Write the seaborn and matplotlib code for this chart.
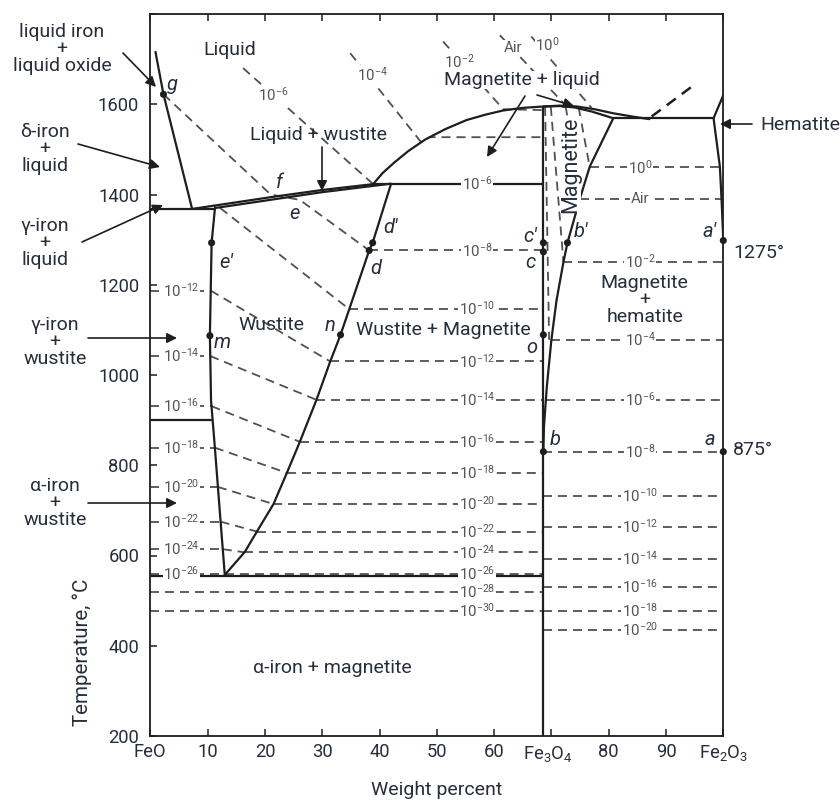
import numpy as np
import pandas as pd
import matplotlib
matplotlib.use("Agg")
import matplotlib.pyplot as plt
import seaborn as sns

sns.set_theme(style="white")
plt.rcParams["font.family"] = ["Roboto", "DejaVu Sans"]
plt.rcParams["mathtext.fontset"] = "custom"
plt.rcParams["mathtext.rm"] = "Roboto"
plt.rcParams["mathtext.it"] = "Roboto:italic"
plt.rcParams["mathtext.bf"] = "Roboto:bold"

TXT = "#262d3b"
ISO = "#555555"
LINE = "#1e1e1e"
DASH = "#505050"

# ---------------- data (weight percent, temperature C) ----------------
liq_left_p = [0.9, 2.3, 7.3]
liq_left_T = [1716, 1622, 1368]
fe_liq_p = [0, 11.3]
fe_liq_T = [1368, 1368]
wus_liquidus_p = [7.3, 21.5, 30.0, 38.9]
wus_liquidus_T = [1368, 1395, 1410, 1423]
wus_solidus_p = [11.3, 29.9, 42.0]
wus_solidus_T = [1370, 1405, 1424]
peritectic_p = [38.9, 68.6]
peritectic_T = [1424, 1424]
mag_liquidus_p = [38.9, 40.5, 42.5, 45.0, 48.0, 51.5, 55.2, 58.5, 61.5, 65.0, 68.6,
                  71.5, 74.5, 77.5, 80.8, 84.0, 87.1]
mag_liquidus_T = [1423, 1447, 1470, 1496, 1522, 1545, 1565, 1577, 1586, 1592, 1595,
                  1597, 1595, 1589, 1580, 1573, 1567]
mag_solidus_p = [68.6, 71.5, 74.0, 77.0, 80.8]
mag_solidus_T = [1595, 1596, 1593, 1584, 1569]
fe3o4_p = [68.6, 68.6]
fe3o4_T = [200, 1595]
wl_p = [11.3, 10.7, 10.4, 10.6, 11.3, 12.2, 13.0]
wl_T = [1372, 1293, 1087, 944, 834, 686, 557]
wr_p = [42.0, 38.8, 38.2, 33.2, 31.4, 29.0, 26.1, 23.8, 21.5, 18.6, 16.5, 13.0]
wr_T = [1423, 1293, 1276, 1089, 1030, 945, 852, 782, 714, 653, 608, 557]
eutectoid_p = [0, 68.6]
eutectoid_T = [555, 555]
alpha_gamma_p = [0, 10.6]
alpha_gamma_T = [900, 900]
bc_p = [80.8, 76.7, 75.0, 72.8, 72.1, 70.9, 70.0, 69.2, 68.7, 68.6]
bc_T = [1569, 1462, 1392, 1293, 1250, 1166, 1078, 974, 885, 830]
hem_eut_p = [80.8, 98.3]
hem_eut_T = [1569, 1569]
hem_p = [100, 98.3, 99.4, 99.7, 100]
hem_T = [1620, 1569, 1462, 1388, 1298]
meta_p = [87.5, 94.5]
meta_T = [1573, 1639]

# oxygen isobars (atm)
left_exp = [-12, -14, -16, -18, -20, -22, -24]
left_T = [1187, 1042, 931, 839, 752, 675, 614]
wus_right_T = [1030, 945, 852, 783, 714, 653, 607]
full_exp = [-26, -28, -30]
full_T = [560, 520, 478]
wm_exp = [-6, -8, -10, -12, -14, -16, -18, -20, -22, -24, -26, -28, -30]
wm_T = [1424, 1276, 1146, 1030, 945, 852, 783, 714, 653, 607, 560, 520, 478]
mh_lab = ["0", "Air", "-2", "-4", "-6", "-8", "-10", "-12", "-14", "-16", "-18", "-20"]
mh_T = [1460, 1390, 1250, 1078, 945, 830, 732, 664, 592, 530, 477, 435]

iso8_p = [2.3, 21.0, 26.1, 38.2]
iso8_T = [1622, 1400, 1388, 1276]
iso10_p = [12.2, 34.7]
iso10_T = [1370, 1146]
iso6_p = [16.2, 38.9]
iso6_T = [1680, 1423]
iso4_p = [34.9, 47.2, 48.8, 68.6]
iso4_T = [1713, 1517, 1527, 1527]
iso2_p = [51.1, 61.6, 68.6]
iso2_T = [1739, 1589, 1587]
isoair_p = [61.0, 72.5]
isoair_T = [1753, 1597]
iso0_p = [66.5, 77.0]
iso0_T = [1750, 1592]
mag4_p = [68.9, 69.6]
mag4_T = [1594, 1078]
mag2_p = [69.9, 72.1]
mag2_T = [1594, 1250]
magair_p = [72.5, 75.0]
magair_T = [1595, 1392]
mag0_p = [74.8, 76.7]
mag0_T = [1590, 1460]

pt_name = ["g", "e′", "m", "d′", "d", "n", "c′", "c", "o", "b", "b′", "a′", "a"]
pt_p = [2.3, 10.7, 10.4, 38.8, 38.2, 33.2, 68.6, 68.6, 68.6, 68.6, 72.8, 100, 100]
pt_T = [1622, 1293, 1087, 1293, 1276, 1089, 1293, 1273, 1089, 830, 1293, 1298, 830]

# ---------------- build tables ----------------
def interp_T(T, ps, Ts):
    order = np.argsort(Ts)
    return float(np.interp(T, np.asarray(Ts)[order], np.asarray(ps)[order]))

rows_solid, rows_dash, rows_meta = [], [], []
def add(rows, name, ps, Ts):
    for p, t in zip(ps, Ts):
        rows.append({"seg": name, "p": p, "T": t})

for name, ps, Ts in [
    ("liqleft", liq_left_p, liq_left_T), ("feliq", fe_liq_p, fe_liq_T),
    ("wliq", wus_liquidus_p, wus_liquidus_T), ("wsol", wus_solidus_p, wus_solidus_T),
    ("perit", peritectic_p, peritectic_T), ("mliq", mag_liquidus_p, mag_liquidus_T),
    ("msol", mag_solidus_p, mag_solidus_T), ("fe3o4", fe3o4_p, fe3o4_T),
    ("wl", wl_p, wl_T), ("wr", wr_p, wr_T), ("eut", eutectoid_p, eutectoid_T),
    ("ag", alpha_gamma_p, alpha_gamma_T), ("bc", bc_p, bc_T),
    ("heut", hem_eut_p, hem_eut_T), ("hem", hem_p, hem_T)]:
    add(rows_solid, name, ps, Ts)
add(rows_meta, "meta", meta_p, meta_T)

for i, (tl, tr) in enumerate(zip(left_T, wus_right_T)):
    pl = interp_T(tl, wl_p, wl_T)
    pr = interp_T(tr, wr_p, wr_T)
    add(rows_dash, f"left{i}", [0, pl], [tl, tl])
    add(rows_dash, f"wus{i}", [pl, pr], [tl, tr])
for i, t in enumerate(wm_T):
    if t in full_T:
        add(rows_dash, f"wm{i}", [0, 68.6], [t, t])
    elif t != 1424:
        add(rows_dash, f"wm{i}", [interp_T(t, wr_p, wr_T), 68.6], [t, t])
for i, t in enumerate(mh_T):
    add(rows_dash, f"mh{i}", [interp_T(t, bc_p, bc_T), 100], [t, t])
for name, ps, Ts in [
    ("i8", iso8_p, iso8_T), ("i10", iso10_p, iso10_T), ("i6", iso6_p, iso6_T),
    ("i4", iso4_p, iso4_T), ("i2", iso2_p, iso2_T), ("iair", isoair_p, isoair_T),
    ("i0", iso0_p, iso0_T), ("m4", mag4_p, mag4_T), ("m2", mag2_p, mag2_T),
    ("mair", magair_p, magair_T), ("m0", mag0_p, mag0_T)]:
    add(rows_dash, name, ps, Ts)

solid_df = pd.DataFrame(rows_solid)
dash_df = pd.DataFrame(rows_dash)
meta_df = pd.DataFrame(rows_meta)
pts_df = pd.DataFrame({"p": pt_p, "T": pt_T, "name": pt_name})

# ---------------- figure ----------------
W, H = 840, 801
fig = plt.figure(figsize=(W / 100, H / 100), dpi=100)
ax = fig.add_axes([150.3 / W, 1 - 736 / H, 573 / W, 722 / H])

sns.lineplot(data=dash_df, x="p", y="T", units="seg", estimator=None, sort=False,
             color=DASH, lw=1.3, linestyle=(0, (5, 3.3)), ax=ax, legend=False, zorder=2)
sns.lineplot(data=solid_df, x="p", y="T", units="seg", estimator=None, sort=False,
             color=LINE, lw=1.6, ax=ax, legend=False, zorder=3)
sns.lineplot(data=meta_df, x="p", y="T", units="seg", estimator=None, sort=False,
             color=LINE, lw=1.8, linestyle=(0, (4.5, 3)), ax=ax, legend=False, zorder=3)
sns.scatterplot(data=pts_df, x="p", y="T", color=LINE, s=26, edgecolor="none",
                ax=ax, legend=False, zorder=6, clip_on=False)

ax.set_xlim(0, 100)
ax.set_ylim(200, 1800)
ax.set_xlabel("")
ax.set_ylabel("")
for s in ax.spines.values():
    s.set_color(LINE)
    s.set_linewidth(1.3)

ax.set_xticks(np.arange(0, 101, 10))
ax.set_xticklabels(["FeO", "10", "20", "30", "40", "50", "60", "", "80", "90",
                    r"Fe$_\mathregular{2}$O$_\mathregular{3}$"])
ax.set_yticks(np.arange(200, 1801, 200))
ax.set_yticklabels([str(v) for v in range(200, 1601, 200)] + [""])
ax.tick_params(axis="both", direction="in", length=5, width=1.1, colors=LINE,
               labelcolor=TXT, labelsize=13.2)
ax.tick_params(axis="x", top=True, bottom=True, pad=5)
ax.tick_params(axis="y", left=True, right=False, pad=8)
ax.text(69.3, -0.011, r"Fe$_\mathregular{3}$O$_\mathregular{4}$", transform=ax.get_xaxis_transform(),
        ha="center", va="top", fontsize=13.2, color=TXT)

fig.text(82 / W, 1 - 652 / H, "Temperature, °C", rotation=90, ha="center", va="center",
         fontsize=14.8, color=TXT)
fig.text(437 / W, 1 - 790 / H, "Weight percent", ha="center", va="center",
         fontsize=14, color=TXT)

WB = dict(facecolor="white", edgecolor="none", pad=0.4)

def iso(txt, p, T, size=10.8):
    ax.text(p, T, txt, ha="center", va="center", fontsize=size, color=ISO,
            bbox=WB, zorder=5)

def sup(e):
    return r"$\mathregular{10^{" + str(e) + r"}}$"

for e, t in zip(left_exp + [-26], left_T + [560]):
    iso(sup(e), 5.4, t)
for e, t in zip(wm_exp, wm_T):
    iso(sup(e), 57.0, t)
for lab_, t in zip(mh_lab, mh_T):
    iso("Air" if lab_ == "Air" else sup(lab_), 85.5, t)
iso(sup(-6), 21.4, 1620)
iso(sup(-4), 38.7, 1665)
iso(sup(-2), 53.9, 1694)
iso("Air", 63.3, 1725)
iso(sup(0), 69.3, 1731)

def lab(txt, p, T, size=14, **kw):
    ax.text(p, T, txt, ha="center", va="center", fontsize=size, color=TXT, zorder=7, **kw)

lab("Liquid", 13.9, 1720)
lab("Liquid + wustite", 29.3, 1532)
lab("Wustite", 21.2, 1111)
lab("Wustite + Magnetite", 51.1, 1100, bbox=WB)
lab("Magnetite + liquid", 64.9, 1654, bbox=dict(facecolor="white", edgecolor="none", pad=0.1))
lab("Magnetite", 73.3, 1466, size=15.5, rotation=90,
    bbox=dict(facecolor="white", edgecolor="none", pad=0.1))
lab("Magnetite\n+\nhematite", 86.3, 1166, linespacing=0.95, bbox=WB)
lab("α-iron + magnetite", 31.7, 351)

for t, p, T in [("g", 3.9, 1643), ("f", 22.5, 1426), ("e", 25.1, 1359), ("d′", 42.0, 1326),
                ("d", 39.4, 1237), ("e′", 13.3, 1250), ("m", 12.5, 1071), ("n", 31.4, 1109),
                ("c′", 66.2, 1306), ("c", 66.3, 1249), ("o", 66.6, 1062), ("b", 70.6, 856),
                ("b′", 75.1, 1317), ("a′", 97.6, 1317), ("a", 97.7, 856)]:
    lab(t, p, T, size=14.5, style="italic")

# outside labels and arrows (figure pixel positions)
def ftext(txt, x, y, size=14, ha="center"):
    fig.text(x / W, 1 - y / H, txt, ha=ha, va="center", fontsize=size, color=TXT,
             linespacing=0.95)

def farrow(x0, y0, x1, y1):
    ax.annotate("", xy=(x1 / W, 1 - y1 / H), xycoords="figure fraction",
                xytext=(x0 / W, 1 - y0 / H), textcoords="figure fraction",
                arrowprops=dict(arrowstyle="-|>", color=LINE, lw=1.2,
                                mutation_scale=15, shrinkA=0, shrinkB=0),
                annotation_clip=False, zorder=8)

ftext("liquid iron\n+\nliquid oxide", 62, 49)
ftext("δ-iron\n+\nliquid", 45, 149)
ftext("γ-iron\n+\nliquid", 45, 243)
ftext("γ-iron\n+\nwustite", 55, 342)
ftext("α-iron\n+\nwustite", 55, 503)
ftext("Hematite", 760, 125, ha="left")
ftext("1275°", 733, 253, ha="left")
ftext("875°", 733, 450, ha="left")

farrow(123, 53, 156, 87)
farrow(78, 144, 160, 167)
farrow(82, 242, 163, 205)
farrow(88, 338, 177, 338)
farrow(88, 503, 177, 503)
farrow(752, 124, 720, 124)
farrow(322, 147, 322, 191)
farrow(525, 96, 487, 157)
farrow(537, 95, 574, 106)

fig.savefig("out.png", dpi=100)
